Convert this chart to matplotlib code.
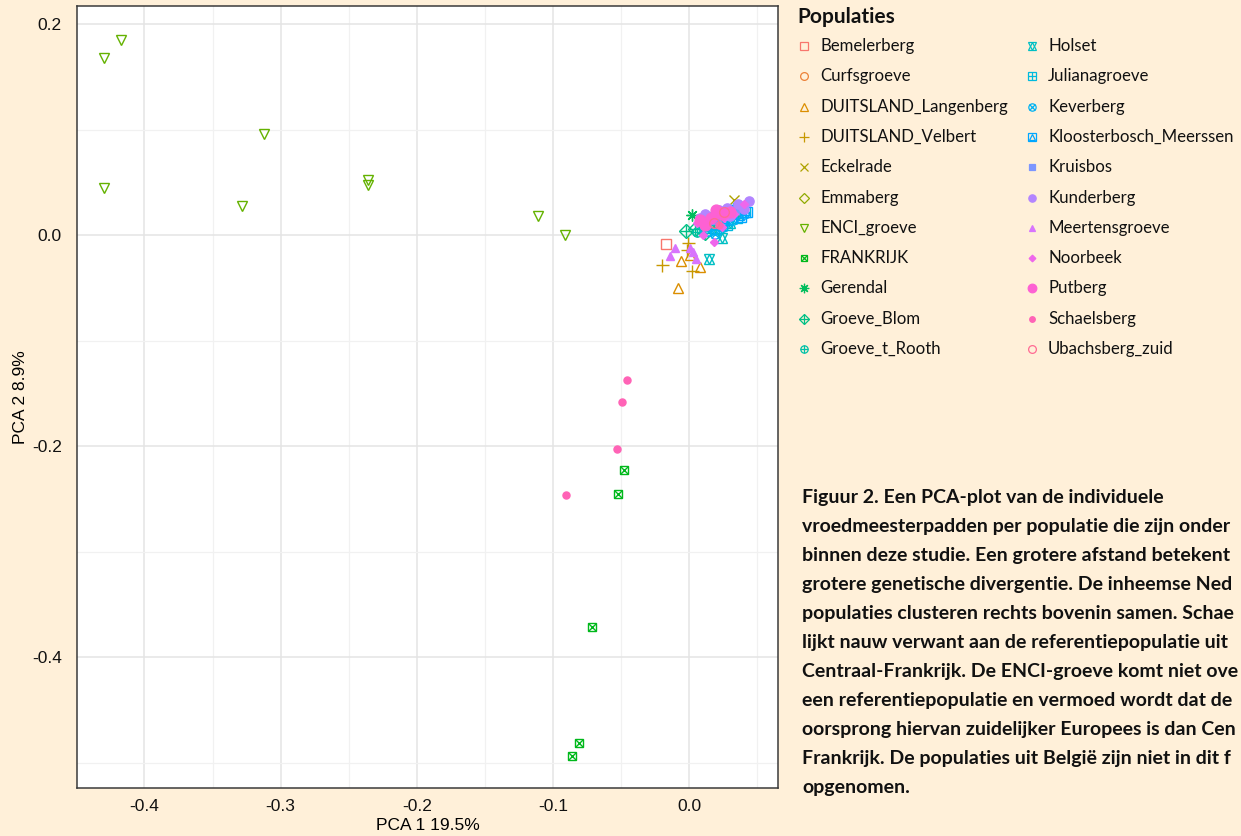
import numpy as np
import matplotlib

matplotlib.use("Agg")
import matplotlib.pyplot as plt
from matplotlib.ticker import MultipleLocator

# ---- data ----
populations = [
    "Bemelerberg", "Curfsgroeve", "DUITSLAND_Langenberg", "DUITSLAND_Velbert",
    "Eckelrade", "Emmaberg", "ENCI_groeve", "FRANKRIJK", "Gerendal",
    "Groeve_Blom", "Groeve_t_Rooth", "Holset", "Julianagroeve", "Keverberg",
    "Kloosterbosch_Meerssen", "Kruisbos", "Kunderberg", "Meertensgroeve",
    "Noorbeek", "Putberg", "Schaelsberg", "Ubachsberg_zuid",
]

pc1 = {
    "Bemelerberg": [-0.017, 0.012],
    "Curfsgroeve": [0.015, 0.022],
    "DUITSLAND_Langenberg": [-0.006, 0.001, 0.008, -0.008],
    "DUITSLAND_Velbert": [-0.020, -0.0005, 0.0024, -0.0017],
    "Eckelrade": [0.033, 0.030, 0.020],
    "Emmaberg": [0.025, 0.035],
    "ENCI_groeve": [-0.430, -0.417, -0.430, -0.3125, -0.328, -0.236, -0.236, -0.111, -0.091],
    "FRANKRIJK": [-0.048, -0.052, -0.071, -0.081, -0.086],
    "Gerendal": [0.002, 0.010, 0.020],
    "Groeve_Blom": [-0.002, 0.004, 0.012],
    "Groeve_t_Rooth": [0.010, 0.018, 0.025, 0.030, 0.036, 0.022, 0.006],
    "Holset": [0.015, 0.024, 0.030],
    "Julianagroeve": [0.020, 0.028, 0.035, 0.012, 0.041],
    "Keverberg": [0.015, 0.025, 0.032, 0.040, 0.019],
    "Kloosterbosch_Meerssen": [0.0424, 0.036, 0.030, 0.038, 0.026],
    "Kruisbos": [0.020, 0.028, 0.034, 0.016, 0.039],
    "Kunderberg": [0.012, 0.022, 0.028, 0.036, 0.040, 0.008, 0.030, 0.044],
    "Meertensgroeve": [-0.010, -0.014, 0.001, 0.005, 0.003],
    "Noorbeek": [0.006, 0.014, 0.020, 0.026, 0.010, 0.033, 0.018, 0.040, 0.024],
    "Putberg": [0.008, 0.016, 0.024, 0.030, 0.012, 0.020],
    "Schaelsberg": [-0.0456, -0.0495, -0.0527, -0.0907, 0.022],
    "Ubachsberg_zuid": [0.018, 0.026],
}

pc2 = {
    "Bemelerberg": [-0.008, 0.012],
    "Curfsgroeve": [0.010, 0.016],
    "DUITSLAND_Langenberg": [-0.024, -0.019, -0.030, -0.050],
    "DUITSLAND_Velbert": [-0.028, -0.007, -0.0335, -0.014],
    "Eckelrade": [0.0335, 0.020, 0.012],
    "Emmaberg": [0.018, 0.022],
    "ENCI_groeve": [0.168, 0.185, 0.045, 0.096, 0.028, 0.052, 0.048, 0.018, 0.000],
    "FRANKRIJK": [-0.223, -0.245, -0.371, -0.4815, -0.494],
    "Gerendal": [0.019, 0.010, 0.020],
    "Groeve_Blom": [0.004, 0.006, 0.002],
    "Groeve_t_Rooth": [0.008, 0.010, 0.012, 0.018, 0.020, 0.005, 0.003],
    "Holset": [-0.0225, -0.003, 0.012],
    "Julianagroeve": [0.006, 0.010, 0.016, 0.004, 0.022],
    "Keverberg": [0.004, 0.008, 0.014, 0.020, 0.001],
    "Kloosterbosch_Meerssen": [0.022, 0.026, 0.024, 0.017, 0.014],
    "Kruisbos": [0.014, 0.020, 0.024, 0.018, 0.028],
    "Kunderberg": [0.020, 0.024, 0.026, 0.030, 0.025, 0.016, 0.018, 0.032],
    "Meertensgroeve": [-0.012, -0.020, -0.012, -0.023, -0.016],
    "Noorbeek": [0.012, 0.014, 0.018, 0.016, 0.000, 0.020, -0.006, 0.030, 0.008],
    "Putberg": [0.014, 0.016, 0.020, 0.022, 0.010, 0.024],
    "Schaelsberg": [-0.1374, -0.158, -0.2023, -0.2464, 0.010],
    "Ubachsberg_zuid": [0.012, 0.022],
}

# caption as far as it is visible in the reference (it runs off the page there)
caption_lines = [
    "Figuur 2. Een PCA-plot van de individuele",
    "vroedmeesterpadden per populatie die zijn onder",
    "binnen deze studie. Een grotere afstand betekent",
    "grotere genetische divergentie. De inheemse Ned",
    "populaties clusteren rechts bovenin samen. Schae",
    "lijkt nauw verwant aan de referentiepopulatie uit",
    "Centraal-Frankrijk. De ENCI-groeve komt niet ove",
    "een referentiepopulatie en vermoed wordt dat de",
    "oorsprong hiervan zuidelijker Europees is dan Cen",
    "Frankrijk. De populaties uit België zijn niet in dit f",
    "opgenomen.",
]

# ---- style ----
BG = "#FFF0D9"
FONT = ["Lato", "DejaVu Sans"]
TICKFONT = ["Liberation Sans Narrow", "Liberation Sans", "DejaVu Sans"]

# ggplot-like shapes 0..21 as (marker, size factor, filled) layers
SHAPES = [
    [("s", 0.85, False)],
    [("o", 0.9, False)],
    [("^", 1.0, False)],
    [("+", 1.2, False)],
    [("x", 1.0, False)],
    [("D", 0.8, False)],
    [("v", 1.0, False)],
    [("s", 0.72, False), ("x", 0.72, False)],
    [((8, 2, 0), 1.1, False)],
    [("D", 0.85, False), ("+", 1.1, False)],
    [("o", 0.85, False), ("+", 0.85, False)],
    [("^", 0.95, False), ("v", 0.95, False)],
    [("s", 0.85, False), ("+", 0.85, False)],
    [("o", 0.85, False), ("x", 0.7, False)],
    [("s", 0.85, False), ("^", 0.6, False)],
    [("s", 0.75, True)],
    [("o", 0.85, True)],
    [("^", 0.8, True)],
    [("D", 0.55, True)],
    [("o", 1.0, True)],
    [("o", 0.65, True)],
    [("o", 0.9, False)],
]


def hcl_hex(h, c=100.0, l=65.0):
    """polarLUV -> sRGB hex, same as R's hcl()."""
    hr = np.deg2rad(h)
    u, v = c * np.cos(hr), c * np.sin(hr)
    xn, yn, zn = 95.047, 100.0, 108.883
    y = yn * ((l + 16) / 116) ** 3
    den = xn + 15 * yn + 3 * zn
    up = u / (13 * l) + 4 * xn / den
    vp = v / (13 * l) + 9 * yn / den
    x = 9 * y * up / (4 * vp)
    z = -x / 3 - 5 * y + 3 * y / vp
    m = np.array([[3.240479, -1.537150, -0.498535],
                  [-0.969256, 1.875992, 0.041556],
                  [0.055648, -0.204043, 1.057311]])
    lin = m @ (np.array([x, y, z]) / 100)
    rgb = np.where(lin <= 0.0031308, 12.92 * lin, 1.055 * np.abs(lin) ** (1 / 2.4) - 0.055)
    rgb = np.clip(rgb, 0, 1)
    return "#" + "".join(f"{int(round(k * 255)):02X}" for k in rgb)


hues = np.linspace(15, 375, len(populations) + 1)[:-1]
COLORS = [hcl_hex(h) for h in hues]


def draw_shape(ax, xs, ys, shape, color, ms, mew=1.0, **kw):
    for marker, fac, filled in SHAPES[shape]:
        ax.plot(xs, ys, linestyle="none", marker=marker, ms=ms * fac,
                mfc=color if filled else "none", mec=color, mew=mew, **kw)


def main() -> None:
    fig = plt.figure(figsize=(12.41, 8.36), dpi=100)
    fig.patch.set_facecolor(BG)

    ax = fig.add_axes([0.062, 0.0574, 0.565, 0.9358])
    ax.set_facecolor("white")
    for i, pop in enumerate(populations):
        draw_shape(ax, pc1[pop], pc2[pop], i, COLORS[i], ms=7.8)

    ax.set_xlim(-0.4496, 0.0654)
    ax.set_ylim(-0.524, 0.2176)
    ax.xaxis.set_major_locator(MultipleLocator(0.1))
    ax.xaxis.set_minor_locator(MultipleLocator(0.05))
    ax.yaxis.set_major_locator(MultipleLocator(0.2))
    ax.yaxis.set_minor_locator(MultipleLocator(0.1))
    ax.grid(which="major", color="#E4E4E4", lw=1.1, zorder=0)
    ax.grid(which="minor", color="#F1F1F1", lw=0.9, zorder=0)
    ax.set_axisbelow(True)
    ax.tick_params(which="both", length=0, labelsize=12.5, labelcolor="#111111")
    ax.tick_params(axis="x", pad=8)
    ax.tick_params(axis="y", pad=11)
    for lab in ax.get_xticklabels() + ax.get_yticklabels():
        lab.set_family(TICKFONT)
    ax.xaxis.set_major_formatter(lambda v, p: f"{v:.1f}".replace("-0.0", "0.0"))
    ax.yaxis.set_major_formatter(lambda v, p: f"{v:.1f}".replace("-0.0", "0.0"))
    for sp in ax.spines.values():
        sp.set_color("#3A3A3A")
        sp.set_linewidth(1.1)
    ax.set_xlabel("PCA 1 19.5%", family=TICKFONT, fontsize=12.5, labelpad=3)
    ax.set_ylabel("PCA 2 8.9%", family=TICKFONT, fontsize=12.5, labelpad=3)

    # legend + caption on a pixel-coordinate overlay
    lax = fig.add_axes([0, 0, 1, 1], facecolor="none")
    lax.set_xlim(0, 1241)
    lax.set_ylim(836, 0)
    lax.axis("off")
    lax.text(797, 17, "Populaties", family=FONT, fontsize=15, fontweight="bold",
             va="center", ha="left", color="#111111")
    for i, pop in enumerate(populations):
        col, row = divmod(i, 11)
        mx = 804 if col == 0 else 1032
        ty = 46 + row * 30.3
        draw_shape(lax, [mx], [ty], i, COLORS[i], ms=6.2, mew=0.9)
        lax.text(mx + 16, ty, pop, family=FONT, fontsize=12.1, va="center",
                 ha="left", color="#111111")

    for k, line in enumerate(caption_lines):
        lax.text(802, 497 + k * 29.05, line, family=FONT, fontsize=14.0,
                 fontweight="bold", va="center", ha="left", color="#111111")

    fig.savefig("out.png", dpi=100, facecolor=BG)


if __name__ == "__main__":
    main()
